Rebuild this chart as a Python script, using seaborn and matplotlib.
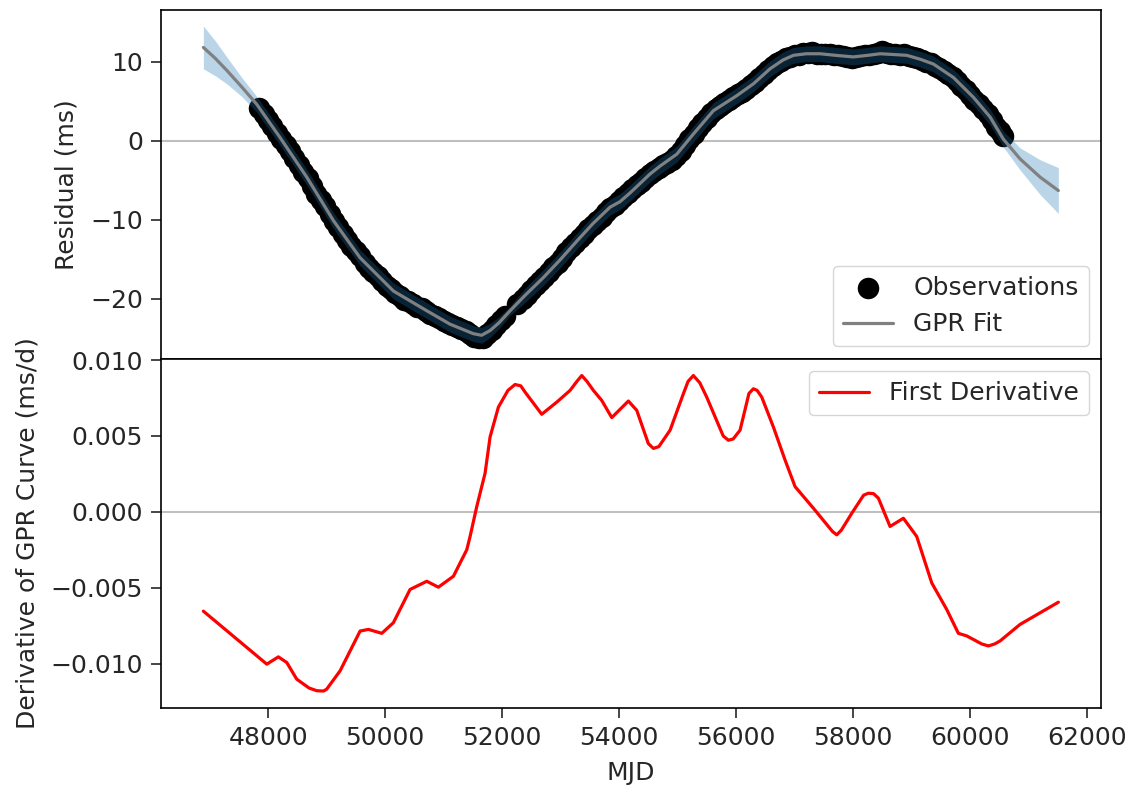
import numpy as np
import pandas as pd
import seaborn as sns
import matplotlib.pyplot as plt

# observations (MJD, residual in ms)
obs_mjd = [47850, 47925, 48000, 48075, 48150, 48225, 48300, 48375, 48450, 48525,
           48600, 48675, 48750, 48825, 48900, 48975, 49050, 49125, 49200, 49275,
           49350, 49425, 49500, 49575, 49650, 49725, 49800, 49875, 49950, 50025,
           50100, 50175, 50250, 50325, 50400, 50475, 50550, 50625, 50700, 50775,
           50850, 50925, 51000, 51075, 51150, 51225, 51300, 51375, 51450, 51525,
           51600, 51675, 51750, 51825, 51900, 51975, 52050, 52250, 52350, 52425,
           52500, 52575, 52650, 52725, 52800, 52875, 52950, 53025, 53100, 53175,
           53250, 53325, 53400, 53475, 53550, 53625, 53700, 53775, 53850, 53925,
           54000, 54075, 54150, 54225, 54300, 54375, 54450, 54525, 54600, 54675,
           54750, 54825, 54900, 54975, 55050, 55125, 55200, 55275, 55350, 55425,
           55500, 55575, 55650, 55725, 55800, 55875, 55950, 56025, 56100, 56175,
           56250, 56325, 56400, 56475, 56550, 56625, 56700, 56775, 56850, 56925,
           57000, 57075, 57150, 57225, 57300, 57375, 57450, 57525, 57600, 57675,
           57750, 57825, 57900, 57975, 58050, 58125, 58200, 58275, 58350, 58425,
           58500, 58575, 58650, 58725, 58800, 58875, 58950, 59025, 59100, 59175,
           59250, 59325, 59400, 59475, 59550, 59625, 59700, 59775, 59850, 59925,
           60000, 60075, 60150, 60225, 60300, 60375, 60450, 60510, 60560]
obs_res = [4.1, 3.4, 2.6, 1.9, 1.0, 0.2, -0.6, -1.3, -2.2, -3.1,
           -3.9, -4.7, -5.7, -6.7, -7.5, -8.3, -9.3, -10.2, -10.9, -11.8,
           -12.5, -13.3, -14.0, -14.6, -15.4, -16.1, -16.6, -17.1, -17.7, -18.4,
           -18.8, -19.2, -19.6, -20.1, -20.3, -20.6, -21.0, -21.1, -21.5, -21.9,
           -22.2, -22.4, -22.8, -23.1, -23.3, -23.6, -23.8, -24.1, -24.4, -24.8,
           -25.0, -24.9, -24.4, -23.9, -23.3, -22.7, -22.2, -20.6, -20.0, -19.5,
           -18.9, -18.3, -17.7, -17.2, -16.6, -16.0, -15.4, -14.8, -14.1, -13.5,
           -12.9, -12.3, -11.8, -11.2, -10.6, -10.1, -9.6, -9.0, -8.5, -8.1,
           -7.6, -7.1, -6.6, -6.1, -5.6, -5.2, -4.7, -4.2, -3.8, -3.5,
           -3.1, -2.8, -2.4, -1.9, -1.3, -0.5, 0.2, 0.9, 1.6, 2.3,
           2.9, 3.5, 4.0, 4.4, 4.8, 5.2, 5.5, 5.9, 6.2, 6.6,
           7.0, 7.4, 7.9, 8.4, 8.9, 9.4, 9.8, 10.1, 10.4, 10.6,
           10.8, 10.9, 11.1, 11.1, 11.2, 11.0, 11.0, 11.0, 11.0, 10.9,
           10.8, 10.7, 10.6, 10.5, 10.6, 10.7, 10.8, 10.9, 11.0, 11.1,
           11.3, 11.1, 11.0, 11.0, 10.9, 11.0, 10.7, 10.6, 10.4, 10.2,
           10.0, 9.8, 9.5, 9.2, 8.8, 8.4, 8.0, 7.5, 6.9, 6.4,
           5.8, 5.2, 4.6, 4.0, 3.4, 2.6, 1.8, 1.2, 0.6]

# GPR fit and 1-sigma width
gpr_mjd = [46894, 47100, 47294, 47550, 47807, 48205, 48661, 49117, 49573, 50142,
           50713, 51111, 51509, 51650, 51795, 51950, 52137, 52400, 52706, 53000,
           53277, 53550, 53846, 54017, 54188, 54359, 54530, 54701, 54986, 55270,
           55612, 56012, 56296, 56581, 56800, 56980, 57200, 57436, 57700, 58005,
           58250, 58462, 58700, 58918, 59150, 59373, 59715, 60056, 60342, 60569,
           60855, 61197, 61509]
gpr_res = [11.8, 10.4, 8.9, 6.8, 4.6, 0.4, -4.6, -10.1, -14.8, -19.0,
           -21.5, -23.2, -24.4, -24.6, -24.0, -23.0, -21.5, -19.5, -17.3, -15.0,
           -12.7, -10.5, -8.4, -7.7, -6.6, -5.4, -4.2, -3.2, -1.7, 0.85,
           3.8, 5.7, 7.2, 9.1, 10.2, 10.8, 11.0, 11.0, 10.8, 10.6,
           10.8, 11.0, 10.9, 10.8, 10.3, 9.7, 8.0, 5.5, 3.0, 0.2,
           -2.3, -4.6, -6.3]
gpr_std = [2.7, 2.2, 1.7, 1.2, 1.0, 1.0, 1.0, 1.0, 1.0, 1.0,
           1.0, 1.0, 1.0, 1.0, 0.9, 0.75, 0.6, 0.9, 1.0, 1.0,
           1.0, 1.0, 1.0, 1.0, 1.0, 1.0, 1.0, 1.0, 1.0, 1.0,
           1.0, 1.0, 1.0, 1.0, 1.0, 1.0, 1.0, 1.0, 1.0, 1.0,
           1.0, 1.0, 1.0, 1.0, 1.0, 1.0, 1.0, 1.0, 1.0, 1.0,
           1.4, 2.2, 2.9]

# first derivative of the GPR curve (ms/d)
der_mjd = [46894, 47978, 48176, 48319, 48490, 48700, 48832, 48950, 49003, 49231,
           49573, 49715, 49943, 50142, 50427, 50713, 50911, 51168, 51397, 51453,
           51567, 51709, 51795, 51937, 52100, 52222, 52320, 52393, 52678, 52935,
           53162, 53280, 53362, 53450, 53561, 53704, 53875, 54159, 54302, 54500,
           54587, 54680, 54872, 55099, 55180, 55270, 55380, 55498, 55780, 55868,
           55950, 56068, 56220, 56296, 56360, 56439, 56638, 56838, 57009, 57322,
           57650, 57721, 57800, 57978, 58180, 58262, 58350, 58433, 58632, 58860,
           59088, 59345, 59601, 59800, 59943, 60200, 60313, 60420, 60513, 60855,
           61509]
der_val = [-0.00654, -0.01003, -0.00955, -0.00992, -0.01102, -0.01160, -0.01178, -0.01180, -0.01167, -0.01047,
           -0.00785, -0.00774, -0.00800, -0.00730, -0.00511, -0.00457, -0.00496, -0.00424, -0.00249, -0.00162,
           0.00035, 0.00254, 0.00494, 0.00690, 0.00800, 0.00839, 0.00830, 0.00789, 0.00643, 0.00723,
           0.00800, 0.00860, 0.00898, 0.00860, 0.00800, 0.00734, 0.00621, 0.00730, 0.00669, 0.00450,
           0.00418, 0.00430, 0.00538, 0.00778, 0.00860, 0.00898, 0.00850, 0.00756, 0.00500, 0.00472,
           0.00480, 0.00538, 0.00780, 0.00811, 0.00800, 0.00756, 0.00559, 0.00341, 0.00166, 0.00024,
           -0.00130, -0.00151, -0.00120, -0.00009, 0.00110, 0.00123, 0.00120, 0.00090, -0.00096, -0.00042,
           -0.00162, -0.00468, -0.00643, -0.00800, -0.00817, -0.00870, -0.00883, -0.00870, -0.00850, -0.00741,
           -0.00595]

obs = pd.DataFrame({'MJD': obs_mjd, 'Residual': obs_res})
gpr = pd.DataFrame({'MJD': gpr_mjd, 'Residual': gpr_res, 'std': gpr_std})
der = pd.DataFrame({'MJD': der_mjd, 'Derivative': der_val})

sns.set_style('ticks')
plt.rcParams['font.family'] = ['DejaVu Sans']
FS = 18

fig, (ax1, ax2) = plt.subplots(2, 1, sharex=True, figsize=(11.34, 7.89), dpi=100)
fig.subplots_adjust(left=0.142, right=0.971, top=0.987, bottom=0.103, hspace=0)

# top panel: residuals + GPR fit
ax1.axhline(0, color='gray', alpha=0.5, lw=1.5, zorder=1)
sns.scatterplot(data=obs, x='MJD', y='Residual', color='black', s=240, linewidth=0,
                label='Observations', ax=ax1, zorder=2)
ax1.fill_between(gpr['MJD'], gpr['Residual'] - gpr['std'], gpr['Residual'] + gpr['std'],
                 color='#1f77b4', alpha=0.3, linewidth=0, zorder=3)
sns.lineplot(data=gpr, x='MJD', y='Residual', color='gray', lw=2.3, label='GPR Fit',
             ax=ax1, zorder=4)
ax1.set_ylim(-27.6, 16.5)
ax1.set_yticks([-20, -10, 0, 10])
ax1.set_ylabel('Residual (ms)', fontsize=FS, labelpad=8)
ax1.legend(loc='lower right', fontsize=FS)

# bottom panel: derivative
ax2.axhline(0, color='gray', alpha=0.5, lw=1.5, zorder=1)
sns.lineplot(data=der, x='MJD', y='Derivative', color='red', lw=2.3,
             label='First Derivative', ax=ax2, zorder=3)
ax2.set_ylim(-0.0129, 0.01007)
ax2.set_yticks([-0.010, -0.005, 0.0, 0.005, 0.010])
ax2.set_ylabel('Derivative of GPR Curve (ms/d)', fontsize=FS, labelpad=8)
ax2.set_xlabel('MJD', fontsize=FS, labelpad=8)
ax2.legend(loc='upper right', fontsize=FS)

ax2.set_xlim(46170, 62240)
ax2.set_xticks(np.arange(48000, 62001, 2000))

for ax in (ax1, ax2):
    ax.tick_params(labelsize=FS, width=1.2, length=7, pad=6)
    for sp in ax.spines.values():
        sp.set_linewidth(1.2)
        sp.set_color('black')

fig.savefig('out.png', dpi=100)
